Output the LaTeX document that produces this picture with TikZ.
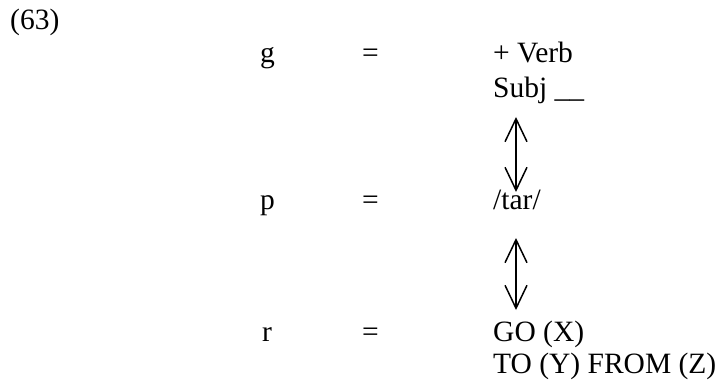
\documentclass[tikz,border=0pt]{standalone}
\usepackage{fontspec}
\setmainfont{Liberation Serif}
\usetikzlibrary{arrows.meta}
\begin{document}
\begin{tikzpicture}[x=1pt,y=1pt,
  txt/.style={anchor=base west,inner sep=0pt,font=\fontsize{29.5}{32}\selectfont},
  dblarrow/.style={line width=1.5pt,{Straight Barb[length=23pt,width=22pt]}-{Straight Barb[length=23pt,width=22pt]}}]
\useasboundingbox (0,0) rectangle (717,-382);
\node[txt] (num) at (10,-30) {(63)};
\node[txt] (g) at (260,-63) {g};
\node[txt] (eqg) at (362,-63) {=};
\node[txt] (verb) at (493,-63) {+ Verb};
\node[txt] (subj) at (493,-98) {Subj \_\_};
\node[txt] (p) at (260,-210) {p};
\node[txt] (eqp) at (362,-210) {=};
\node[txt] (tar) at (493,-210) {/tar/};
\node[txt] (r) at (262,-341) {r};
\node[txt] (eqr) at (362,-341) {=};
\node[txt] (go) at (493,-341) {GO (X)};
\node[txt] (to) at (493,-373) {TO (Y) FROM (Z)};
\coordinate (a1t) at (516,-117);
\coordinate (a1b) at (516,-192);
\coordinate (a2t) at (516,-238);
\coordinate (a2b) at (516,-310);
\draw[dblarrow] (a1t) -- (a1b);
\draw[dblarrow] (a2t) -- (a2b);
\end{tikzpicture}
\end{document}
